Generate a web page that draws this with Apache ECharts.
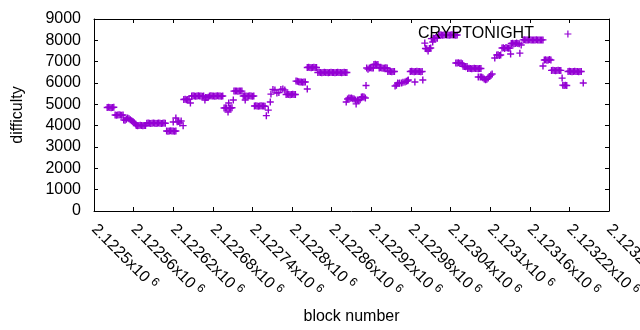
<!DOCTYPE html>
<html>
<head>
<meta charset="utf-8">
<script src="https://cdn.jsdelivr.net/npm/echarts@6/dist/echarts.min.js"></script>
<style>
  html, body { margin: 0; padding: 0; background: #fff; }
  #chart { width: 640px; height: 330px; }
</style>
</head>
<body>
<div id="chart"></div>
<script>
const blockNumber = [
  2122520, 2122522, 2122524, 2122526, 2122528, 2122530,
  2122532, 2122534, 2122536, 2122538, 2122540, 2122542, 2122544,
  2122545, 2122547, 2122549, 2122551, 2122553, 2122555, 2122557, 2122559, 2122561, 2122563,
  2122564, 2122566, 2122568, 2122570, 2122572, 2122574, 2122576, 2122578,
  2122580, 2122582, 2122584, 2122586, 2122588, 2122590, 2122592, 2122594, 2122596, 2122598, 2122600, 2122602, 2122604, 2122606, 2122608,
  2122610, 2122612, 2122614, 2122616, 2122618, 2122620, 2122622, 2122624,
  2122620, 2122624, 2122626, 2122628, 2122630, 2122632, 2122635,
  2122636, 2122638, 2122640, 2122642, 2122644, 2122646,
  2122648, 2122650, 2122652, 2122654, 2122656, 2122658, 2122660, 2122662, 2122664, 2122666, 2122668,
  2122669, 2122671, 2122673, 2122675, 2122677, 2122679, 2122681, 2122683, 2122685, 2122687, 2122689, 2122691, 2122693, 2122695,
  2122697, 2122699, 2122701, 2122703, 2122704, 2122705, 2122707, 2122709, 2122711,
  2122712, 2122714, 2122716, 2122718, 2122720, 2122722, 2122724,
  2122726, 2122728, 2122729, 2122730, 2122732, 2122734, 2122736, 2122738, 2122740, 2122742,
  2122743, 2122745, 2122747, 2122749, 2122751, 2122753, 2122755, 2122757, 2122759,
  2122761, 2122764, 2122767, 2122768,
  2122771, 2122774, 2122777, 2122780, 2122783, 2122786, 2122789,
  2122791, 2122793, 2122795, 2122797, 2122799, 2122801, 2122803, 2122805,
  2122806, 2122808, 2122810, 2122812, 2122814, 2122816, 2122818, 2122820, 2122823,
  2122823, 2122825, 2122827, 2122829, 2122831, 2122833, 2122835, 2122837,
  2122839, 2122841, 2122843, 2122845, 2122847, 2122849, 2122851, 2122853, 2122855, 2122857, 2122859,
  2122861, 2122863, 2122865, 2122867, 2122869, 2122871, 2122873, 2122875, 2122877, 2122879, 2122881, 2122883,
  2122882, 2122884, 2122886, 2122888, 2122890, 2122892, 2122894, 2122896, 2122897, 2122899, 2122901,
  2122903, 2122905, 2122907, 2122909, 2122911, 2122912,
  2122913, 2122915, 2122917, 2122919, 2122921, 2122923, 2122924, 2122926, 2122928, 2122930,
  2122932, 2122934, 2122936, 2122938, 2122940, 2122942, 2122944,
  2122945, 2122947, 2122949, 2122951, 2122953, 2122955,
  2122956, 2122958, 2122960, 2122962, 2122963, 2122966, 2122968, 2122971, 2122973, 2122975, 2122976, 2122986, 2122998,
  2122979, 2122981, 2122983, 2122985, 2122987, 2122989, 2122991, 2122993, 2122995, 2122997,
  2123001, 2123002, 2123004, 2123006, 2123008, 2123010,
  2123011, 2123013, 2123014, 2123016, 2123018, 2123020,
  2123022, 2123024, 2123026, 2123028, 2123030, 2123032, 2123034, 2123036, 2123038, 2123040, 2123042, 2123044, 2123046, 2123048, 2123050,
  2123048, 2123050, 2123052, 2123054, 2123056, 2123058, 2123059, 2123061, 2123063, 2123065,
  2123066, 2123068, 2123070, 2123072, 2123074, 2123076, 2123078, 2123080, 2123082, 2123084, 2123086,
  2123082, 2123085, 2123087, 2123089, 2123091, 2123093, 2123095, 2123097, 2123099, 2123101, 2123103,
  2123107, 2123110, 2123112, 2123114, 2123116, 2123118, 2123120, 2123122, 2123124, 2123126, 2123128, 2123130, 2123131, 2123145,
  2123132, 2123134, 2123136, 2123138, 2123140, 2123142, 2123144, 2123147,
  2123150, 2123152, 2123154, 2123156, 2123158, 2123160, 2123162, 2123164, 2123166, 2123168, 2123170, 2123172, 2123174, 2123176, 2123178, 2123180,
  2123180, 2123182, 2123184, 2123186, 2123188, 2123190, 2123192,
  2123193, 2123195, 2123197, 2123199, 2123201, 2123203, 2123205, 2123207,
  2123209, 2123210, 2123212, 2123214, 2123216,
  2123218, 2123220, 2123222, 2123224, 2123226, 2123228, 2123230, 2123232, 2123234, 2123236, 2123238, 2123241
]

const difficulty = [
  4850, 4860, 4850, 4840, 4850, 4860,
  4500, 4490, 4500, 4510, 4500, 4490, 4500,
  4270, 4250, 4300, 4360, 4330, 4280, 4230, 4190, 4140, 4080,
  4010, 4000, 4010, 4020, 4010, 4000, 4010, 4010,
  4110, 4120, 4110, 4100, 4110, 4120, 4110, 4100, 4110, 4120, 4110, 4100, 4110, 4120, 4110,
  3750, 3740, 3750, 3760, 3750, 3750, 3740, 3750,
  4170, 4360, 4180, 4200, 4130, 4220, 4000,
  5230, 5240, 5220, 5230, 5240, 5060,
  5390, 5400, 5390, 5380, 5390, 5400, 5390, 5390, 5380, 5390, 5200,
  5320, 5320, 5330, 5390, 5400, 5390, 5390, 5380, 5390, 5400, 5390, 5390, 5380, 5390,
  4830, 4840, 4830, 4640, 5060, 4820, 4830, 4840, 5200,
  5620, 5630, 5620, 5610, 5630, 5620, 5620,
  5390, 5400, 5200, 5390, 5380, 5390, 5400, 5390, 5380, 5390,
  4920, 4930, 4920, 4910, 4920, 4930, 4920, 4920, 4910,
  4470, 4730, 5110, 5480,
  5700, 5670, 5530, 5550, 5700, 5720, 5670,
  5460, 5470, 5460, 5450, 5460, 5470, 5460, 5460,
  6090, 6080, 6060, 6050, 6050, 6040, 6050, 6050, 5720,
  6730, 6740, 6730, 6720, 6730, 6740, 6730, 6730,
  6490, 6500, 6490, 6480, 6490, 6500, 6490, 6490, 6480, 6490, 6500,
  6490, 6490, 6480, 6490, 6500, 6490, 6490, 6480, 6490, 6500, 6490, 6490,
  5110, 5250, 5300, 5280, 5300, 5260, 5250, 5200, 5020, 5200, 5180,
  5220, 5340, 5360, 5340, 5300, 5880,
  6700, 6650, 6700, 6710, 6700, 6700, 6870, 6880, 6860, 6870,
  6700, 6710, 6700, 6690, 6700, 6710, 6700,
  6540, 6550, 6540, 6530, 6540, 6540,
  5860, 5900, 6000, 5980, 6000, 6000, 6030, 6050, 6080, 6100, 6140, 6050, 6140,
  6540, 6550, 6540, 6530, 6540, 6550, 6540, 6540, 6530, 6540,
  7870, 7620, 7600, 7500, 7620, 7640,
  8080, 7920, 8100, 8090, 8110, 8100,
  8250, 8260, 8250, 8240, 8250, 8260, 8250, 8250, 8240, 8250, 8260, 8250, 8250, 8240, 8250,
  6940, 6940, 6950, 6930, 6940, 6900, 6780, 6770, 6760, 6770,
  6680, 6690, 6680, 6670, 6680, 6690, 6680, 6680, 6670, 6680, 6680,
  6280, 6280, 6280, 6250, 6190, 6150, 6170, 6230, 6300, 6370, 6420,
  7170, 7310, 7330, 7290, 7310, 7640, 7650, 7620, 7660, 7640, 7630, 7640, 7360, 7400,
  7850, 7860, 7840, 7850, 7870, 7850, 7840, 7780,
  8020, 8030, 8020, 8010, 8020, 8030, 8020, 8020, 8010, 8020, 8030, 8020, 8020, 8010, 8020, 8020,
  6800, 7080, 7090, 7070, 7080, 7100, 7080,
  6590, 6600, 6590, 6580, 6590, 6600, 6590, 6590,
  6230, 5900, 5880, 5890, 5880,
  6540, 6550, 6540, 6530, 6540, 6550, 6540, 6540, 6530, 6540, 6540, 6000
]

const xTicks = { min: 2122500, max: 2123280, step: 60 }
const yTicks = { min: 0, max: 9000, step: 1000 }

const PURPLE = '#9400d3'
const FONT = 'Liberation Sans'
const PLUS = 'path://M0,4H8M4,0V8'

const chart = echarts.init(document.getElementById('chart'), null, { renderer: 'canvas' })

const points = blockNumber.map((b, i) => [b, difficulty[i]])

// "2.1225x10^6" style labels
function blockLabel(v) {
  const mant = parseFloat((v / 1e6).toFixed(6)).toString()
  return '{m|' + mant + 'x10}{e|6}'
}

const baseX = {
  type: 'value',
  min: xTicks.min,
  max: xTicks.max,
  interval: xTicks.step,
  splitLine: { show: false },
  axisLine: { show: true, onZero: false, lineStyle: { color: '#000', width: 1 } },
  axisTick: { show: true, inside: true, length: 4, lineStyle: { color: '#000' } }
}

const baseY = {
  type: 'value',
  min: yTicks.min,
  max: yTicks.max,
  interval: yTicks.step,
  splitLine: { show: false },
  axisLine: { show: true, onZero: false, lineStyle: { color: '#000', width: 1 } },
  axisTick: { show: true, inside: true, length: 4, lineStyle: { color: '#000' } }
}

const option = {
  animation: false,
  backgroundColor: '#fff',
  grid: { left: 94, right: 31, top: 19, bottom: 119, containLabel: false, outerBoundsMode: 'none' },
  legend: {
    data: ['CRYPTONIGHT'],
    top: 26,
    right: 68,
    padding: 0,
    align: 'right',
    itemWidth: 58,
    itemHeight: 7,
    symbolKeepAspect: true,
    textStyle: { color: '#000', fontFamily: FONT, fontSize: 16 },
    itemStyle: { color: PURPLE, borderColor: PURPLE, borderWidth: 1.2 }
  },
  xAxis: [
    Object.assign({}, baseX, {
      position: 'bottom',
      name: 'block number',
      nameLocation: 'middle',
      nameGap: 98,
      nameTextStyle: { color: '#000', fontFamily: FONT, fontSize: 16 },
      axisLabel: {
        rotate: -45,
        margin: 16,
        showMaxLabel: true,
        hideOverlap: false,
        color: '#000',
        formatter: blockLabel,
        rich: {
          m: { fontFamily: FONT, fontSize: 16, color: '#000' },
          e: { fontFamily: FONT, fontSize: 12, color: '#000', padding: [0, 0, 8, 4] }
        }
      }
    }),
    Object.assign({}, baseX, { position: 'top', axisLabel: { show: false } })
  ],
  yAxis: [
    Object.assign({}, baseY, {
      position: 'left',
      name: 'difficulty',
      nameLocation: 'middle',
      nameRotate: 90,
      nameGap: 68,
      nameTextStyle: { color: '#000', fontFamily: FONT, fontSize: 16 },
      axisLabel: { color: '#000', fontFamily: FONT, fontSize: 16, margin: 13, formatter: v => String(v) }
    }),
    Object.assign({}, baseY, { position: 'right', axisLabel: { show: false } })
  ],
  series: [
    {
      name: 'CRYPTONIGHT',
      type: 'scatter',
      data: points,
      symbol: PLUS,
      symbolSize: 7,
      itemStyle: { color: PURPLE, borderColor: PURPLE, borderWidth: 1.4, opacity: 1 },
      emphasis: { disabled: true }
    }
  ]
}

chart.setOption(option)
</script>
</body>
</html>
